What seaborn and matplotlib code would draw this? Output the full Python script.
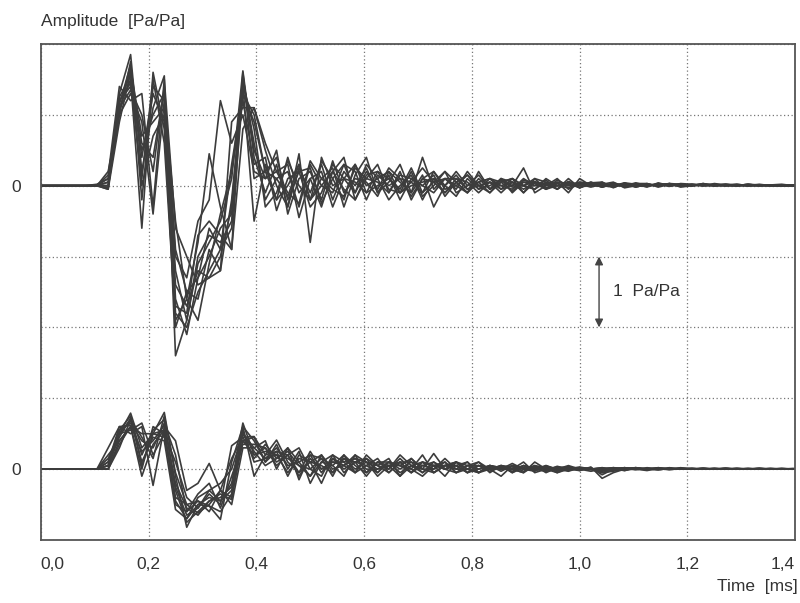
import numpy as np
import pandas as pd
import seaborn as sns
import matplotlib
matplotlib.use("Agg")
import matplotlib.pyplot as plt
from matplotlib.ticker import FuncFormatter

# sample rate of the measured impulse responses, samples per ms
fs_per_ms = 48

# upper group: impulse responses (grid unit = 1 Pa/Pa)
upper_traces = [
    [0, 0, 0, 0, 0, 0, -0.05, 1.3, 1.85, 0.2,
     1.1, 1.55, -2.4, -1.9, -1.1, -0.8, -0.5, 0.1, 1.62, 0.4,
     -0.1, 0.3, -0.3, 0.25, -0.1, 0.3, -0.2, 0.2, 0.0, 0.25,
     -0.1, 0.15, -0.2, 0.1, 0.0, 0.15, -0.15, 0.05, -0.1, 0.1,
     -0.05, 0.1, -0.1, 0.05, 0.0, 0.08, -0.05, 0.05, 0.0, 0.05,
     -0.02, 0.03, 0.0, 0.04, 0.0, 0.03, 0.01, 0.02, 0.0, 0.02,
     0.01, 0.02, 0.0, 0.01, 0.01, 0.0, 0.01, 0.0, 0.0],
    [0, 0, 0, 0, 0, 0.02, 0.1, 1.1, 1.5, -0.6,
     1.6, 0.8, -1.8, -2.0, -1.5, -1.2, -0.9, -0.6, 1.3, 0.9,
     0.2, -0.2, 0.4, -0.1, 0.1, -0.3, 0.2, 0.4, -0.2, 0.1,
     0.3, -0.1, 0.2, -0.2, 0.1, 0.05, 0.2, -0.1, 0.0, 0.15,
     -0.05, 0.05, 0.1, -0.1, 0.05, 0.0, 0.1, -0.05, 0.03, 0.0,
     0.05, -0.02, 0.02, 0.0, 0.03, -0.02, 0.02, 0.0, 0.02, 0.0,
     0.01, 0.0, 0.02, 0.0, 0.01, 0.0, 0.0, 0.01, 0.0],
    [0, 0, 0, 0, 0, 0, 0.2, 1.0, 1.3, 0.9,
     -0.4, 1.2, -0.5, -1.6, -0.8, 0.45, -0.3, -0.9, 0.8, 1.1,
     0.5, 0.0, -0.3, 0.45, -0.8, 0.4, 0.0, 0.1, 0.3, -0.1,
     0.0, 0.1, -0.05, 0.25, -0.1, 0.05, 0.1, -0.05, 0.2, 0.0,
     0.05, -0.05, 0.1, 0.0, -0.05, 0.05, 0.0, 0.05, -0.03, 0.02,
     0.0, 0.03, -0.02, 0.02, 0.0, 0.01, 0.03, 0.0, 0.01, 0.0,
     0.0, 0.02, 0.0, 0.0, 0.01, 0.0, 0.0, 0.0, 0.0],
    [0, 0, 0, 0, 0, 0, 0.0, 1.2, 1.4, 0.5,
     1.0, 1.3, -1.0, -1.3, -0.5, -0.2, 1.2, 0.6, 1.0, 0.2,
     0.1, 0.5, -0.4, 0.1, 0.2, -0.2, 0.35, -0.1, 0.1, 0.05,
     -0.15, 0.2, 0.05, -0.1, 0.4, -0.05, 0.1, 0.0, -0.1, 0.05,
     0.1, 0.0, -0.05, 0.1, 0.0, 0.02, -0.05, 0.06, 0.0, 0.02,
     0.03, 0.0, 0.02, -0.02, 0.02, 0.0, 0.02, 0.0, 0.01, 0.02,
     0.0, 0.01, 0.0, 0.01, 0.0, 0.01, 0.0, 0.0, 0.0],
    [0, 0, 0, 0, 0, 0, -0.05, 0.9, 1.6, 0.0,
     0.7, 1.0, -1.4, -1.7, -1.2, -1.3, -1.0, -0.3, 1.5, 0.6,
     -0.2, 0.1, 0.2, -0.3, 0.3, 0.0, -0.1, 0.3, 0.2, -0.2,
     0.15, 0.0, 0.1, 0.05, -0.1, 0.2, 0.0, -0.15, 0.1, -0.05,
     0.0, 0.08, -0.02, 0.0, 0.06, -0.03, 0.03, 0.0, 0.02, -0.02,
     0.02, 0.0, 0.03, 0.0, -0.01, 0.02, 0.0, 0.01, 0.0, 0.01,
     0.0, 0.0, 0.01, 0.0, 0.0, 0.01, 0.0, 0.0, 0.0],
    [0, 0, 0, 0, 0, 0, 0.05, 1.15, 1.7, 0.4,
     1.3, 0.9, -2.0, -1.5, -1.6, -0.9, -1.2, -0.2, 1.4, -0.5,
     0.3, -0.2, 0.0, 0.3, -0.2, 0.1, 0.25, -0.3, 0.15, 0.4,
     -0.1, 0.05, 0.3, -0.1, 0.15, -0.3, 0.0, 0.2, 0.0, 0.05,
     -0.1, 0.1, 0.0, 0.25, -0.1, 0.0, 0.05, -0.1, 0.1, 0.0,
     0.02, 0.05, -0.03, 0.0, 0.02, 0.0, 0.03, -0.02, 0.0, 0.03,
     0.0, 0.01, 0.0, 0.02, 0.0, 0.01, 0.0, 0.0, 0.0],
    [0, 0, 0, 0, 0, 0.0, 0.15, 1.4, 1.2, 1.3,
     -0.3, 1.5, -0.6, -1.0, -1.4, -1.3, -1.2, 0.9, 1.1, 1.1,
     0.6, 0.2, 0.3, -0.45, 0.1, 0.2, -0.3, 0.1, -0.1, 0.3,
     0.1, -0.2, 0.0, 0.15, -0.2, 0.1, 0.0, 0.15, -0.05, 0.0,
     0.05, -0.1, 0.05, 0.0, 0.1, -0.05, 0.0, 0.05, 0.0, 0.03,
     -0.02, 0.02, 0.0, 0.03, 0.0, 0.02, -0.01, 0.02, 0.0, 0.01,
     0.02, 0.0, 0.01, 0.0, 0.01, 0.0, 0.01, 0.0, 0.0],
    [0, 0, 0, 0, 0, 0, 0.0, 1.0, 1.75, -0.2,
     1.4, 1.2, -1.7, -1.8, -0.7, -0.5, -0.7, -0.9, 1.6, 0.1,
     0.2, 0.4, -0.2, 0.2, -0.3, -0.1, 0.3, 0.1, 0.05, -0.1,
     0.2, 0.1, -0.1, 0.0, 0.05, 0.1, -0.1, 0.1, 0.05, -0.1,
     0.05, 0.0, 0.05, -0.05, 0.05, 0.03, 0.0, 0.02, 0.04, 0.0,
     0.0, 0.02, 0.0, 0.02, 0.01, 0.0, 0.02, 0.0, 0.01, 0.0,
     0.01, 0.0, 0.0, 0.01, 0.0, 0.0, 0.01, 0.0, 0.0],
    [0, 0, 0, 0, 0, 0, 0.0, 1.25, 1.55, 0.6,
     0.4, 1.35, -1.6, -2.1, -1.3, -1.0, -0.6, -0.4, 1.45, 0.8,
     -0.3, -0.1, 0.35, 0.0, -0.2, 0.35, 0.1, -0.2, 0.3, 0.0,
     0.1, 0.2, -0.1, 0.2, -0.15, 0.0, 0.2, 0.05, -0.1, 0.2,
     -0.05, 0.1, 0.05, -0.1, 0.1, 0.05, -0.05, 0.1, -0.03, 0.04,
     0.05, -0.03, 0.04, 0.02, -0.02, 0.04, 0.0, 0.03, 0.02, 0.0,
     0.03, 0.01, 0.0, 0.02, 0.0, 0.01, 0.02, 0.0, 0.01],
    [0, 0, 0, 0, 0, 0, 0.1, 1.2, 1.45, 0.1,
     1.5, 0.6, -1.9, -1.6, -1.9, -1.1, -0.4, 0.2, 1.2, 0.3,
     0.4, -0.35, 0.1, 0.2, 0.25, -0.25, 0.1, 0.3, -0.1, 0.2,
     -0.05, 0.25, 0.1, -0.15, 0.1, 0.2, -0.05, 0.0, 0.15, -0.05,
     0.1, 0.05, -0.08, 0.08, 0.03, -0.05, 0.08, 0.0, 0.05, 0.02,
     -0.02, 0.04, 0.0, 0.03, 0.03, -0.01, 0.03, 0.02, 0.0, 0.03,
     0.0, 0.02, 0.01, 0.0, 0.02, 0.0, 0.01, 0.01, 0.0],
    [0, 0, 0, 0, 0, 0, -0.03, 1.05, 1.65, 0.7,
     0.9, 1.1, -1.2, -1.9, -1.0, -0.7, -0.8, -0.5, 1.55, 0.5,
     0.1, 0.2, -0.1, -0.25, 0.35, 0.1, -0.05, -0.15, 0.25, 0.1,
     0.05, -0.1, 0.15, 0.1, 0.0, -0.1, 0.1, 0.1, -0.05, 0.05,
     0.1, -0.05, 0.0, 0.05, 0.05, -0.05, 0.05, 0.03, -0.03, 0.05,
     0.0, -0.02, 0.03, 0.01, 0.0, 0.02, 0.02, -0.01, 0.02, 0.01,
     0.0, 0.01, 0.02, 0.0, 0.0, 0.01, 0.0, 0.0, 0.01],
    [0, 0, 0, 0, 0, 0, 0.05, 1.1, 1.35, 1.0,
     0.2, 1.4, -0.9, -1.5, -1.3, -0.6, -0.9, 0.3, 1.3, 1.0,
     0.2, 0.1, -0.15, 0.3, -0.2, 0.0, 0.2, -0.05, -0.2, 0.15,
     0.2, -0.05, -0.1, 0.05, 0.25, 0.05, -0.1, 0.05, 0.15, 0.0,
     -0.1, 0.05, 0.1, 0.0, -0.05, 0.1, 0.0, -0.03, 0.05, 0.03,
     0.02, 0.0, 0.04, -0.02, 0.02, 0.01, 0.0, 0.02, 0.0, 0.02,
     0.01, 0.0, 0.0, 0.02, 0.01, 0.0, 0.0, 0.01, 0.0],
]

# lower group
lower_traces = [
    [0, 0, 0, 0, 0, 0, 0.1, 0.5, 0.79, 0.3,
     0.5, 0.8, -0.1, -0.82, -0.5, -0.4, -0.45, -0.2, 0.65, 0.2,
     0.3, 0.1, 0.2, -0.1, 0.15, 0.0, 0.1, 0.05, 0.2, -0.05,
     0.1, 0.0, 0.2, 0.05, -0.05, 0.1, 0.0, 0.05, -0.05, 0.05,
     0.0, 0.05, -0.05, 0.05, 0.0, 0.03, -0.05, 0.0, 0.03, 0.0,
     0.0, 0.02, -0.02, 0.01, 0.0, 0.02, 0.0, 0.01, 0.0, 0.01,
     0.0, 0.01, 0.0, 0.0, 0.01, 0.0, 0.0, 0.0, 0.0],
    [0, 0, 0, 0, 0, 0, 0.0, 0.4, 0.6, 0.0,
     0.6, 0.5, -0.4, -0.5, -0.62, -0.5, -0.3, -0.4, 0.4, 0.45,
     0.1, 0.35, 0.0, 0.25, -0.2, 0.1, 0.2, -0.05, 0.1, 0.15,
     -0.05, 0.1, 0.05, 0.0, 0.2, -0.05, 0.05, 0.1, 0.0, -0.05,
     0.05, 0.0, 0.08, 0.0, -0.03, 0.05, 0.0, -0.02, 0.02, 0.0,
     -0.05, 0.0, 0.02, 0.0, 0.01, -0.01, 0.01, 0.0, 0.01, 0.0,
     0.0, 0.0, 0.01, 0.0, 0.0, 0.0, 0.0, 0.0, 0.0],
    [0, 0, 0, 0, 0, 0, 0.3, 0.6, 0.5, 0.6,
     -0.23, 0.6, 0.4, -0.3, -0.2, 0.08, -0.3, -0.5, 0.3, 0.3,
     0.4, 0.0, 0.3, 0.1, -0.1, 0.2, -0.05, 0.15, 0.0, 0.1,
     0.05, 0.15, -0.1, 0.05, 0.0, 0.22, 0.0, -0.05, 0.05, 0.1,
     -0.05, 0.05, 0.0, 0.1, -0.05, 0.0, 0.03, 0.0, -0.02, 0.03,
     -0.13, -0.05, 0.0, 0.02, 0.0, 0.0, 0.02, 0.0, 0.0, 0.01,
     0.0, 0.01, 0.0, 0.0, 0.0, 0.01, 0.0, 0.0, 0.0],
    [0, 0, 0, 0, 0, 0, 0.05, 0.55, 0.65, 0.4,
     0.3, 0.65, 0.2, -0.6, -0.45, -0.52, -0.71, 0.1, 0.6, -0.1,
     0.2, 0.25, -0.1, 0.2, 0.1, -0.2, 0.15, 0.0, 0.1, -0.1,
     0.1, 0.05, -0.1, 0.15, 0.0, 0.0, 0.1, -0.05, 0.0, 0.1,
     0.0, -0.1, 0.05, 0.0, 0.05, -0.05, 0.02, 0.03, 0.0, 0.0,
     0.02, 0.0, -0.02, 0.02, 0.0, 0.01, 0.0, 0.01, 0.0, 0.0,
     0.01, 0.0, 0.0, 0.0, 0.01, 0.0, 0.0, 0.0, 0.0],
    [0, 0, 0, 0, 0, 0, 0.0, 0.3, 0.7, 0.1,
     0.45, 0.4, -0.57, -0.7, -0.4, -0.3, -0.2, 0.0, 0.5, 0.25,
     0.05, 0.15, 0.3, -0.15, 0.2, 0.15, -0.1, 0.2, -0.05, 0.05,
     0.15, -0.05, 0.1, -0.05, 0.1, 0.05, -0.1, 0.1, 0.05, 0.0,
     0.05, 0.0, 0.0, -0.05, 0.1, 0.0, -0.05, 0.02, 0.0, -0.03,
     0.0, 0.02, 0.0, 0.0, -0.02, 0.01, 0.0, 0.0, 0.01, 0.0,
     0.0, 0.0, 0.0, 0.01, 0.0, 0.0, 0.0, 0.0, 0.0],
    [0, 0, 0, 0, 0, 0, 0.15, 0.5, 0.55, 0.65,
     0.2, 0.5, 0.1, -0.4, -0.55, -0.35, -0.5, 0.33, 0.45, 0.46,
     0.2, 0.41, 0.1, -0.05, 0.25, 0.0, 0.1, 0.1, 0.15, 0.0,
     0.0, 0.1, 0.0, 0.1, 0.05, 0.0, 0.15, 0.0, 0.0, -0.05,
     0.05, 0.02, 0.0, 0.05, 0.0, -0.03, 0.0, 0.05, 0.0, 0.0,
     -0.03, 0.0, 0.02, 0.0, 0.0, 0.01, 0.0, 0.0, 0.0, 0.0,
     0.01, 0.0, 0.0, 0.0, 0.0, 0.01, 0.0, 0.0, 0.0],
    [0, 0, 0, 0, 0, 0, 0.05, 0.45, 0.72, 0.2,
     0.55, 0.7, -0.3, -0.75, -0.6, -0.45, -0.35, -0.43, 0.55, 0.1,
     0.15, 0.2, 0.15, 0.05, -0.1, 0.1, 0.05, -0.1, 0.2, 0.1,
     -0.1, 0.05, 0.1, -0.05, 0.05, 0.1, 0.0, 0.05, -0.05, 0.05,
     0.0, 0.05, -0.05, 0.02, 0.0, 0.05, -0.02, 0.0, 0.02, 0.0,
     -0.02, 0.01, 0.0, 0.0, 0.01, 0.0, 0.01, 0.0, 0.0, 0.01,
     0.0, 0.0, 0.0, 0.0, 0.0, 0.0, 0.0, 0.0, 0.0],
    [0, 0, 0, 0, 0, 0, 0.0, 0.35, 0.6, -0.1,
     0.35, 0.55, -0.5, -0.6, -0.35, -0.2, -0.55, -0.1, 0.35, 0.35,
     0.3, 0.05, 0.2, 0.3, 0.0, -0.1, 0.2, 0.1, -0.05, 0.2,
     0.05, 0.0, 0.15, 0.0, -0.1, 0.05, 0.05, 0.0, 0.1, -0.05,
     0.0, 0.03, 0.0, -0.05, 0.05, 0.02, 0.0, -0.03, 0.02, 0.0,
     0.01, 0.0, 0.0, 0.01, 0.0, 0.0, 0.01, 0.0, 0.0, 0.0,
     0.0, 0.01, 0.0, 0.0, 0.0, 0.0, 0.0, 0.0, 0.0],
    [0, 0, 0, 0, 0, 0, 0.1, 0.6, 0.62, 0.25,
     0.4, 0.62, -0.2, -0.55, -0.65, -0.45, -0.4, -0.25, 0.5, 0.3,
     0.15, 0.3, 0.05, 0.1, 0.2, -0.05, 0.15, 0.05, -0.05, 0.15,
     0.05, -0.05, 0.1, 0.1, -0.05, 0.05, 0.1, -0.05, 0.05, 0.05,
     -0.03, 0.05, 0.03, -0.03, 0.03, 0.02, 0.0, 0.03, -0.02, 0.02,
     -0.05, -0.03, 0.01, 0.02, -0.01, 0.02, 0.0, 0.01, 0.01, 0.0,
     0.01, 0.0, 0.01, 0.0, 0.01, 0.0, 0.0, 0.01, 0.0],
    [0, 0, 0, 0, 0, 0, 0.05, 0.5, 0.7, 0.45,
     0.15, 0.75, -0.05, -0.5, -0.45, -0.6, -0.3, 0.15, 0.45, 0.15,
     0.35, 0.15, 0.25, 0.05, 0.0, 0.15, 0.05, 0.2, 0.05, -0.05,
     0.1, 0.1, -0.05, 0.05, 0.1, -0.05, 0.05, 0.05, 0.1, -0.05,
     0.05, -0.03, 0.05, 0.02, -0.02, 0.04, 0.0, 0.02, 0.02, -0.01,
     0.0, 0.02, 0.01, -0.01, 0.02, 0.0, 0.0, 0.02, 0.0, 0.01,
     0.0, 0.01, 0.0, 0.01, 0.0, 0.0, 0.01, 0.0, 0.0],
    [0, 0, 0, 0, 0, 0, 0.2, 0.4, 0.6, 0.5,
     0.5, 0.45, -0.25, -0.65, -0.55, -0.3, -0.45, -0.3, 0.4, 0.2,
     0.25, 0.2, -0.05, 0.15, 0.1, 0.05, -0.05, 0.15, 0.1, 0.05,
     -0.05, 0.1, 0.05, -0.05, 0.1, 0.05, 0.0, 0.1, -0.05, 0.0,
     0.05, 0.02, -0.03, 0.05, 0.0, -0.02, 0.04, 0.0, 0.0, 0.02,
     -0.08, 0.0, 0.02, 0.0, 0.01, 0.01, -0.01, 0.01, 0.0, 0.0,
     0.0, 0.01, 0.0, 0.0, 0.01, 0.0, 0.0, 0.0, 0.0],
    [0, 0, 0, 0, 0, 0, 0.0, 0.55, 0.75, 0.05,
     0.5, 0.55, -0.45, -0.7, -0.5, -0.52, -0.6, -0.35, 0.6, 0.4,
     0.1, 0.25, 0.2, -0.05, 0.1, 0.2, 0.0, 0.05, 0.15, 0.1,
     0.0, 0.05, 0.05, 0.15, 0.0, -0.05, 0.05, 0.1, 0.0, 0.05,
     0.02, 0.0, 0.05, 0.0, 0.03, 0.0, -0.03, 0.03, 0.0, 0.0,
     0.02, -0.02, 0.0, 0.02, 0.0, -0.01, 0.01, 0.0, 0.0, 0.01,
     0.0, 0.0, 0.01, 0.0, 0.0, 0.0, 0.01, 0.0, 0.0],
]

upper_offset = 4  # upper group drawn 4 grid units above the lower one

x_ticks = [0.0, 0.2, 0.4, 0.6, 0.8, 1.0, 1.2, 1.4]

# long form table for seaborn
rows = []
for group, traces, offset in [("upper", upper_traces, upper_offset), ("lower", lower_traces, 0)]:
    for i, tr in enumerate(traces):
        for k, v in enumerate(tr):
            rows.append({"trace": f"{group}{i}", "t": k / fs_per_ms, "amp": v + offset})
df = pd.DataFrame(rows)

sns.set_style("white")
plt.rcParams["font.family"] = ["Liberation Sans Narrow", "Liberation Sans", "DejaVu Sans"]

fig = plt.figure(figsize=(8, 6.03), dpi=100)
ax = fig.add_axes([0.051, 0.1045, 0.943, 0.8226])

sns.lineplot(data=df, x="t", y="amp", units="trace", estimator=None,
             color="#3c3c3c", linewidth=1.2, ax=ax, legend=False)

ax.set_xlim(0, 1.4)
ax.set_ylim(-1, 6)
ax.set_xticks(x_ticks)
ax.set_yticks(range(-1, 7))
ax.set_yticklabels(["0" if y in (0, upper_offset) else "" for y in range(-1, 7)])
ax.xaxis.set_major_formatter(FuncFormatter(lambda v, p: f"{v:.1f}".replace(".", ",")))
ax.grid(True, linestyle=(0, (1, 2)), color="#777777", linewidth=0.9)
ax.set_xlabel("")
ax.set_ylabel("")

ax.tick_params(axis="both", direction="in", length=4, color="#555555",
               labelsize=12.5, labelcolor="#333333")
ax.tick_params(axis="x", pad=12)
ax.tick_params(axis="y", pad=14, length=0)
xt = ax.get_xticklabels()
xt[0].set_ha("left")
xt[-1].set_ha("right")

for s in ax.spines.values():
    s.set_color("#555555")
    s.set_linewidth(1.3)

# scale bar: one grid unit = 1 Pa/Pa
ax.annotate("", xy=(1.036, 3), xytext=(1.036, 2),
            arrowprops=dict(arrowstyle="<|-|>", color="#444444", lw=1.0,
                            mutation_scale=12, shrinkA=0, shrinkB=0))
ax.text(1.062, 2.5, "1  Pa/Pa", va="center", ha="left", fontsize=12.5, color="#333333")

ax.text(0.0, 1.03, "Amplitude  [Pa/Pa]", transform=ax.transAxes,
        ha="left", va="bottom", fontsize=12.5, color="#333333")
ax.text(1.004, -0.094, "Time  [ms]", transform=ax.transAxes,
        ha="right", va="center", fontsize=12.5, color="#333333")

fig.savefig("out.png", dpi=100)
